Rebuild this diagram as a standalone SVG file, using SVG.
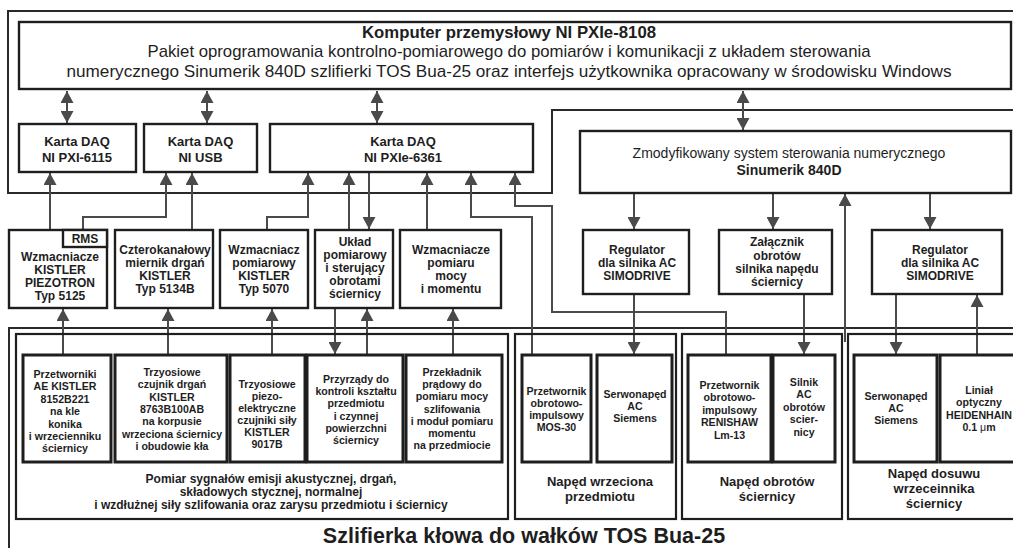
<svg xmlns="http://www.w3.org/2000/svg" width="1013" height="548" viewBox="0 0 1013 548">
<defs>
<marker id="ah" viewBox="0 0 12 13" refX="12" refY="6.5" markerWidth="12" markerHeight="13" markerUnits="userSpaceOnUse" orient="auto-start-reverse"><path d="M0,0 L12,6.5 L0,13 z" fill="#4a4a4a"/></marker>
</defs>
<style>
text{font-family:"Liberation Sans",Arial,sans-serif;fill:#1e1e1e;text-anchor:middle}
.b{fill:#fff;stroke:#1e1e1e;stroke-width:2.4}
.b3{fill:#fff;stroke:#1e1e1e;stroke-width:3}
.g{fill:none;stroke:#1e1e1e;stroke-width:2.2}
.o{fill:none;stroke:#2a2a2a;stroke-width:2}
.c{fill:none;stroke:#4a4a4a;stroke-width:2}
.a{marker-end:url(#ah)}
.d{marker-start:url(#ah);marker-end:url(#ah)}
.t17{font-size:17px}
.t17b{font-size:17px;font-weight:bold}
.t14{font-size:14px}
.t14b{font-size:14px;font-weight:bold}
.t13b{font-size:13px;font-weight:bold}
.t12b{font-size:12px;font-weight:bold}
.t10b{font-size:10.6px;font-weight:bold}
.tt{font-size:21.5px;font-weight:bold}
</style>

<g id="outlines">
<path class="o" d="M1015,11 H8 V193 H552 V110 H1015"/>
<path class="o" d="M9,550 V328 H1015"/>
</g>

<g id="connectors">
<line class="c d" x1="67" y1="91" x2="67" y2="123"/>
<line class="c d" x1="207" y1="91" x2="207" y2="123"/>
<line class="c d" x1="377" y1="91" x2="377" y2="123"/>
<line class="c d" x1="743" y1="91" x2="743" y2="130"/>
<line class="c a" x1="50" y1="230" x2="50" y2="173"/>
<path class="c a" d="M83,230 V217 H166 V173"/>
<line class="c a" x1="192" y1="230" x2="192" y2="173"/>
<path class="c a" d="M267,230 V217 H308 V173"/>
<line class="c a" x1="349" y1="230" x2="349" y2="173"/>
<line class="c a" x1="369" y1="172" x2="369" y2="229"/>
<line class="c a" x1="427" y1="230" x2="427" y2="173"/>
<path class="c a" d="M532,355 V217 H471 V173"/>
<path class="c a" d="M726,355 V312 H552 V206 H515 V173"/>
<line class="c a" x1="634" y1="193" x2="634" y2="229"/>
<line class="c a" x1="773" y1="193" x2="773" y2="229"/>
<line class="c a" x1="930" y1="193" x2="930" y2="229"/>
<line class="c a" x1="845" y1="342" x2="845" y2="194"/>
<line class="c a" x1="634" y1="294" x2="634" y2="354"/>
<line class="c a" x1="804" y1="294" x2="804" y2="354"/>
<line class="c a" x1="896" y1="294" x2="896" y2="354"/>
<line class="c a" x1="977" y1="355" x2="977" y2="295"/>
<line class="c a" x1="63" y1="355" x2="63" y2="309"/>
<line class="c a" x1="168" y1="355" x2="168" y2="309"/>
<line class="c a" x1="272" y1="355" x2="272" y2="309"/>
<line class="c a" x1="335" y1="308" x2="335" y2="354"/>
<line class="c a" x1="367" y1="355" x2="367" y2="309"/>
<line class="c a" x1="453" y1="355" x2="453" y2="309"/>
</g>

<g id="computer">
<rect class="b" x="19" y="22" width="992" height="67" style="fill:none"/>
<text class="t17b" x="509" y="38" textLength="294" lengthAdjust="spacingAndGlyphs">Komputer przemysłowy NI PXIe-8108</text>
<text class="t17" x="509" y="57" textLength="723" lengthAdjust="spacingAndGlyphs">Pakiet oprogramowania kontrolno-pomiarowego do pomiarów i komunikacji z układem sterowania</text>
<text class="t17" x="509" y="77" textLength="885" lengthAdjust="spacingAndGlyphs">numerycznego Sinumerik 840D szlifierki TOS Bua-25 oraz interfejs użytkownika opracowany w środowisku Windows</text>
</g>

<g id="daq1"><rect class="b" x="19" y="124" width="117" height="48"/>
<text class="t13b" x="77" y="146">Karta DAQ</text><text class="t13b" x="77" y="162">NI PXI-6115</text></g>
<g id="daq2"><rect class="b" x="144" y="124" width="113" height="48"/>
<text class="t13b" x="200.5" y="146">Karta DAQ</text><text class="t13b" x="200.5" y="162">NI USB</text></g>
<g id="daq3"><rect class="b" x="270" y="124" width="263" height="48"/>
<text class="t13b" x="403" y="146">Karta DAQ</text><text class="t13b" x="403" y="162">NI PXIe-6361</text></g>

<g id="sinumerik"><rect class="b" x="580" y="131" width="431" height="62"/>
<text class="t14" x="789" y="158">Zmodyfikowany system sterowania numerycznego</text>
<text class="t14b" x="789" y="175">Sinumerik 840D</text></g>

<g id="wzm-kistler"><rect class="b" x="9" y="230" width="98" height="78"/>
<rect class="b" x="63" y="230" width="44" height="17"/>
<text class="t12b" x="85" y="243">RMS</text>
<text class="t12b" x="60"><tspan x="60" y="261">Wzmacniacze</tspan><tspan x="60" y="274">KISTLER</tspan><tspan x="60" y="287">PIEZOTRON</tspan><tspan x="60" y="300">Typ 5125</tspan></text></g>
<g id="czterokanalowy"><rect class="b" x="115" y="230" width="98" height="78"/>
<text class="t12b"><tspan x="165" y="254">Czterokanałowy</tspan><tspan x="165" y="267">miernik drgań</tspan><tspan x="165" y="280">KISTLER</tspan><tspan x="165" y="293">Typ 5134B</tspan></text></g>
<g id="wzm-pomiarowy"><rect class="b" x="220" y="230" width="88" height="78"/>
<text class="t12b"><tspan x="264" y="254">Wzmacniacz</tspan><tspan x="264" y="267">pomiarowy</tspan><tspan x="264" y="280">KISTLER</tspan><tspan x="264" y="293">Typ 5070</tspan></text></g>
<g id="uklad"><rect class="b" x="315" y="230" width="78" height="78"/>
<text class="t12b"><tspan x="355" y="246">Układ</tspan><tspan x="355" y="259">pomiarowy</tspan><tspan x="355" y="272">i sterujący</tspan><tspan x="355" y="285">obrotami</tspan><tspan x="355" y="298">ściernicy</tspan></text></g>
<g id="wzm-mocy"><rect class="b" x="400" y="230" width="101" height="78"/>
<text class="t12b"><tspan x="451" y="254">Wzmacniacze</tspan><tspan x="451" y="267">pomiaru</tspan><tspan x="451" y="280">mocy</tspan><tspan x="451" y="293">i momentu</tspan></text></g>

<g id="regulator1"><rect class="b" x="583" y="230" width="106" height="64"/>
<text class="t12b"><tspan x="637" y="254">Regulator</tspan><tspan x="637" y="267">dla silnika AC</tspan><tspan x="637" y="280">SIMODRIVE</tspan></text></g>
<g id="zalacznik"><rect class="b" x="719" y="230" width="113" height="64"/>
<text class="t12b"><tspan x="777" y="246">Załącznik</tspan><tspan x="777" y="259.5">obrotów</tspan><tspan x="777" y="273">silnika napędu</tspan><tspan x="777" y="286">ściernicy</tspan></text></g>
<g id="regulator2"><rect class="b" x="872" y="230" width="130" height="64"/>
<text class="t12b"><tspan x="940" y="254">Regulator</tspan><tspan x="940" y="267">dla silnika AC</tspan><tspan x="940" y="280">SIMODRIVE</tspan></text></g>

<g id="grupa-pomiar"><rect class="g" x="16" y="334" width="492" height="185"/>
<text class="t12b"><tspan x="271" y="482.5">Pomiar sygnałów emisji akustycznej, drgań,</tspan><tspan x="271" y="495.5">składowych stycznej, normalnej</tspan><tspan x="271" y="508.5">i wzdłużnej siły szlifowania oraz zarysu przedmiotu i ściernicy</tspan></text></g>
<g id="grupa-wrzeciono"><rect class="g" x="515" y="334" width="161" height="185"/>
<text class="t13b"><tspan x="600" y="486">Napęd wrzeciona</tspan><tspan x="600" y="501">przedmiotu</tspan></text></g>
<g id="grupa-obroty"><rect class="g" x="682" y="334" width="160" height="185"/>
<text class="t13b"><tspan x="767" y="486">Napęd obrotów</tspan><tspan x="767" y="501">ściernicy</tspan></text></g>
<g id="grupa-dosuw"><rect class="g" x="848" y="334" width="175" height="185"/>
<text class="t13b"><tspan x="934" y="478">Napęd dosuwu</tspan><tspan x="934" y="493">wrzeceinnika</tspan><tspan x="934" y="508">ściernicy</tspan></text></g>

<g id="przetworniki-ae"><rect class="b3" x="23" y="355" width="88" height="107"/>
<text class="t10b"><tspan x="65" y="378">Przetworniki</tspan><tspan x="65" y="390.4">AE KISTLER</tspan><tspan x="65" y="402.8">8152B221</tspan><tspan x="65" y="415.2">na kle</tspan><tspan x="65" y="427.6">konika</tspan><tspan x="65" y="440">i wrzecienniku</tspan><tspan x="65" y="452.4">ściernicy</tspan></text></g>
<g id="czujnik-drgan"><rect class="b3" x="115" y="355" width="112" height="107"/>
<text class="t10b"><tspan x="172" y="376">Trzyosiowe</tspan><tspan x="172" y="388.3">czujnik drgań</tspan><tspan x="172" y="400.6">KISTLER</tspan><tspan x="172" y="412.9">8763B100AB</tspan><tspan x="172" y="425.2">na korpusie</tspan><tspan x="172" y="437.5">wrzeciona ściernicy</tspan><tspan x="172" y="449.8">i obudowie kła</tspan></text></g>
<g id="czujniki-sily"><rect class="b3" x="230" y="355" width="75" height="107"/>
<text class="t10b"><tspan x="267" y="388">Trzyosiowe</tspan><tspan x="267" y="400">piezo-</tspan><tspan x="267" y="412">elektryczne</tspan><tspan x="267" y="424">czujniki siły</tspan><tspan x="267" y="436">KISTLER</tspan><tspan x="267" y="448">9017B</tspan></text></g>
<g id="przyrzady"><rect class="b3" x="307" y="355" width="96" height="107"/>
<text class="t10b"><tspan x="356" y="383">Przyrządy do</tspan><tspan x="356" y="395.2">kontroli kształtu</tspan><tspan x="356" y="407.4">przedmiotu</tspan><tspan x="356" y="419.6">i czynnej</tspan><tspan x="356" y="431.8">powierzchni</tspan><tspan x="356" y="444">ściernicy</tspan></text></g>
<g id="przekladnik"><rect class="b3" x="406" y="355" width="96" height="107"/>
<text class="t10b"><tspan x="452" y="376">Przekładnik</tspan><tspan x="452" y="388.2">prądowy do</tspan><tspan x="452" y="400.3">pomiaru mocy</tspan><tspan x="452" y="412.5">szlifowania</tspan><tspan x="452" y="424.7">i moduł pomiaru</tspan><tspan x="452" y="436.8">momentu</tspan><tspan x="452" y="449">na przedmiocie</tspan></text></g>

<g id="mos30"><rect class="b3" x="522" y="355" width="69" height="107"/>
<text class="t10b"><tspan x="556.5" y="394.5">Przetwornik</tspan><tspan x="556.5" y="406.5">obrotowo-</tspan><tspan x="556.5" y="418.5">impulsowy</tspan><tspan x="556.5" y="430.5">MOS-30</tspan></text></g>
<g id="serwo1"><rect class="b3" x="597" y="355" width="75" height="107"/>
<text class="t10b"><tspan x="635" y="398">Serwonapęd</tspan><tspan x="635" y="410">AC</tspan><tspan x="635" y="422">Siemens</tspan></text></g>
<g id="renishaw"><rect class="b3" x="688" y="355" width="83" height="107"/>
<text class="t10b"><tspan x="729.5" y="389">Przetwornik</tspan><tspan x="729.5" y="401.4">obrotowo-</tspan><tspan x="729.5" y="413.8">impulsowy</tspan><tspan x="729.5" y="426.2">RENISHAW</tspan><tspan x="729.5" y="438.6">Lm-13</tspan></text></g>
<g id="silnik"><rect class="b3" x="773" y="355" width="62" height="107"/>
<text class="t10b"><tspan x="804" y="386">Silnik</tspan><tspan x="804" y="398.4">AC</tspan><tspan x="804" y="410.8">obrotów</tspan><tspan x="804" y="423.2">scier-</tspan><tspan x="804" y="435.6">nicy</tspan></text></g>
<g id="serwo2"><rect class="b3" x="854" y="355" width="83" height="107"/>
<text class="t10b"><tspan x="896" y="400">Serwonapęd</tspan><tspan x="896" y="412">AC</tspan><tspan x="896" y="424">Siemens</tspan></text></g>
<g id="linial"><rect class="b3" x="940" y="355" width="80" height="107"/>
<text class="t10b"><tspan x="979" y="394">Liniał</tspan><tspan x="979" y="406.3">optyczny</tspan><tspan x="979" y="418.6">HEIDENHAIN</tspan><tspan x="979" y="431">0.1 <tspan style="font-weight:normal">μ</tspan>m</tspan></text></g>

<g id="szlifierka"><text class="tt" x="524" y="543">Szlifierka kłowa do wałków TOS Bua-25</text></g>
</svg>
